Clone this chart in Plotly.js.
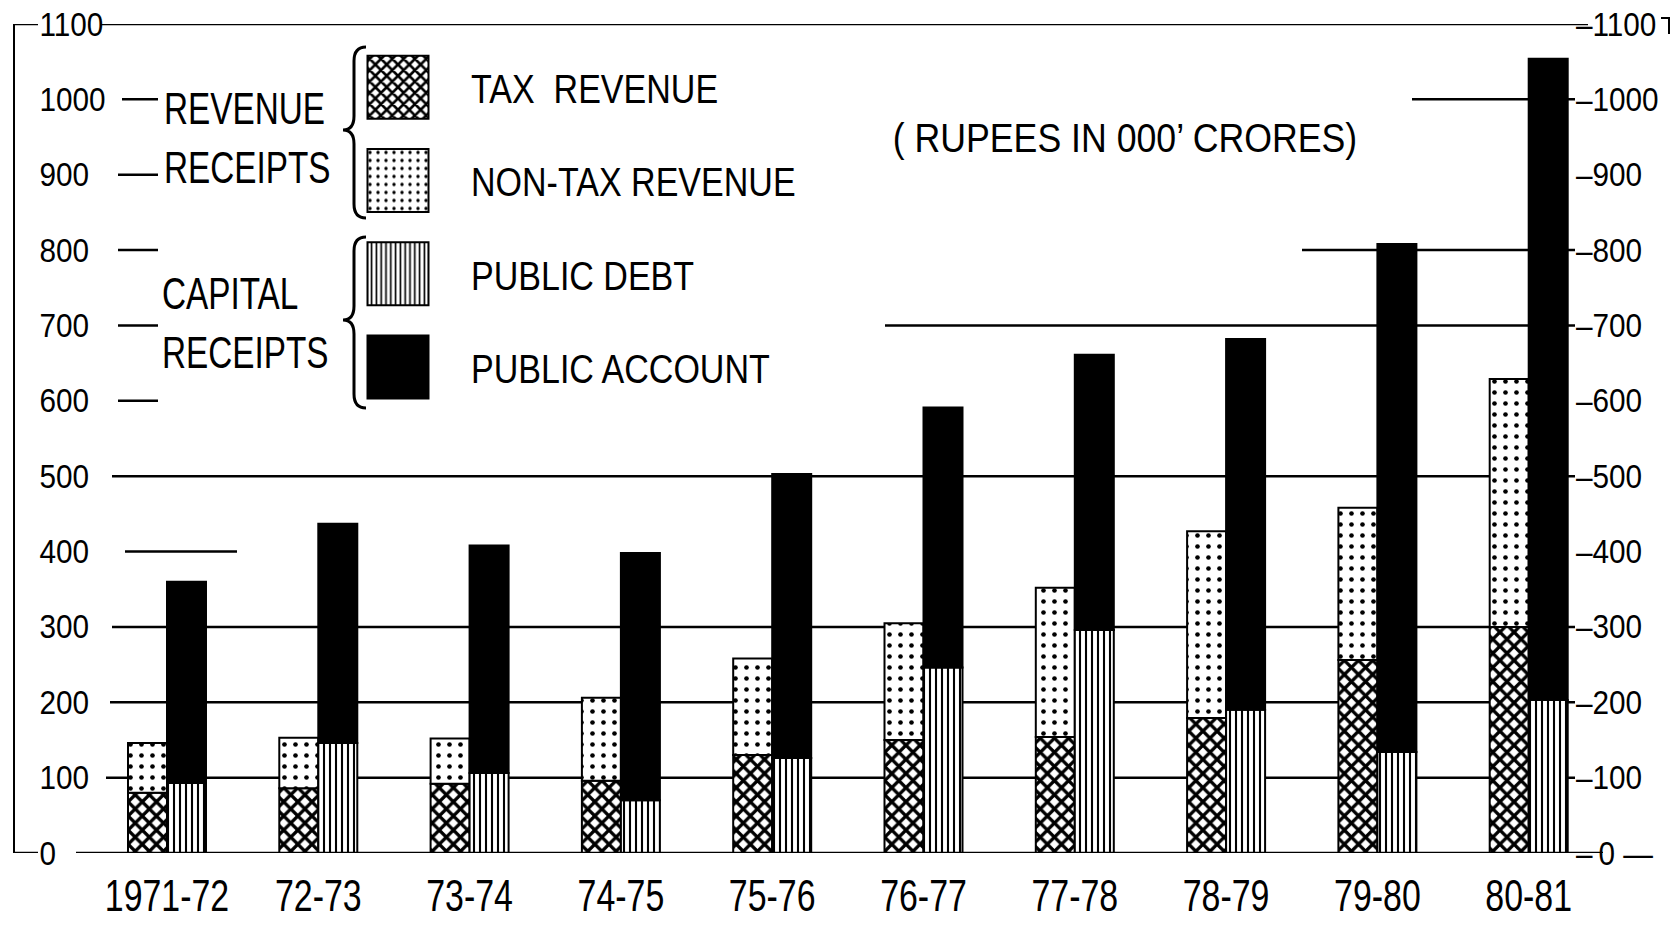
<!DOCTYPE html>
<html>
<head>
<meta charset="utf-8">
<script src="https://cdn.plot.ly/plotly-3.0.1.min.js"></script>
<style>
  html, body { margin: 0; padding: 0; background: #fff; }
  #chart { width: 1671px; height: 925px; }
</style>
</head>
<body>
<div id="chart"></div>
<script>
// ---------------- data ----------------
const categories = ['1971-72', '72-73', '73-74', '74-75', '75-76', '76-77', '77-78', '78-79', '79-80', '80-81'];
const taxRevenue    = [80, 86, 92, 96, 130, 150, 154, 179, 256, 300];
const nonTaxRevenue = [66, 67, 60, 110, 128, 155, 198, 248, 202, 329];
const publicDebt    = [93, 146, 106, 70, 126, 246, 296, 190, 134, 203];
const publicAccount = [267, 291, 302, 328, 377, 345, 365, 492, 674, 851];
const yTickValues = [0, 100, 200, 300, 400, 500, 600, 700, 800, 900, 1000, 1100];
const seriesNames = ['TAX  REVENUE', 'NON-TAX REVENUE', 'PUBLIC DEBT', 'PUBLIC ACCOUNT'];
const groupLabels = ['REVENUE<br>RECEIPTS', 'CAPITAL<br>RECEIPTS'];
const unitNote = '( RUPEES IN 000\u2019 CRORES)';

// ---------------- layout helpers (decoration only) ----------------
const FONT = '"Liberation Sans", Arial, sans-serif';
const W = 1671, H = 925;
const L = 15, R = 1575, T = 24, B = 853;
const px = x => (x - L) / (R - L);      // pixel x -> paper
const py = y => (B - y) / (B - T);      // pixel y -> paper

const stroke = { color: '#000', width: 2 };

const traces = [
  {
    type: 'bar', name: seriesNames[0], x: categories, y: taxRevenue,
    offsetgroup: 'revenue', legendgroup: 'a',
    marker: { color: '#fff', line: stroke,
      pattern: { shape: 'x', fgcolor: '#000', bgcolor: '#fff', size: 10, solidity: 0.55 } }
  },
  {
    type: 'bar', name: seriesNames[1], x: categories, y: nonTaxRevenue, base: taxRevenue,
    offsetgroup: 'revenue', legendgroup: 'b',
    marker: { color: '#fff', line: stroke,
      pattern: { shape: '.', fgcolor: '#000', bgcolor: '#fff', size: 11, solidity: 0.14 } }
  },
  {
    type: 'bar', name: seriesNames[2], x: categories, y: publicDebt,
    offsetgroup: 'capital', legendgroup: 'c',
    marker: { color: '#fff', line: stroke,
      pattern: { shape: '|', fgcolor: '#000', bgcolor: '#fff', size: 6, solidity: 0.35 } }
  },
  {
    type: 'bar', name: seriesNames[3], x: categories, y: publicAccount, base: publicDebt,
    offsetgroup: 'capital', legendgroup: 'd',
    marker: { color: '#000', line: stroke }
  },
  {
    // invisible helper so the right-hand axis is drawn
    type: 'scatter', x: [categories[0]], y: [0], yaxis: 'y2', mode: 'none',
    showlegend: false, hoverinfo: 'skip'
  }
];

function brace(xr, xm, xl, yTop, yBot, yTip) {
  const P = (x, y) => px(x).toFixed(5) + ',' + py(y).toFixed(5);
  return 'M' + P(xr, yTop) + ' Q' + P(xm, yTop) + ' ' + P(xm, yTop + 14) +
         ' L' + P(xm, yTip - 14) + ' Q' + P(xm, yTip) + ' ' + P(xl, yTip) +
         ' Q' + P(xm, yTip) + ' ' + P(xm, yTip + 14) +
         ' L' + P(xm, yBot - 14) + ' Q' + P(xm, yBot) + ' ' + P(xr, yBot);
}

// hand-ruled guide lines: which stretches of each level are drawn (pixel x ranges)
const guideStretches = {
  100: [[106, R]], 200: [[110, R]], 300: [[112, R]], 400: [[125, 237]], 500: [[112, R]],
  600: [[118, 158]], 700: [[118, 158], [885, R]], 800: [[118, 158], [1302, R]],
  900: [[118, 158]], 1000: [[122, 158], [1412, R]]
};
const shapes = [];
Object.keys(guideStretches).forEach(v => {
  guideStretches[v].forEach(([a, b]) => {
    shapes.push({ type: 'line', layer: 'below', xref: 'paper', yref: 'y',
      x0: px(a), x1: px(b), y0: Number(v), y1: Number(v),
      line: { color: '#000', width: 2.5 } });
  });
});
// frame: top rule and base line, broken where the end labels sit
const frameRuns = [[0, L, 38], [0, 76, 1603], [1100, L, 38], [1100, 100, 1588]];
frameRuns.forEach(([v, a, b]) => {
  shapes.push({ type: 'line', layer: 'above', xref: 'paper', yref: 'y',
    x0: px(a), x1: px(b), y0: v, y1: v, line: { color: '#000', width: 2.5 } });
});
shapes.push(
  { type: 'path', xref: 'paper', yref: 'paper',
    path: 'M' + px(1661) + ',' + py(18) + ' L' + px(1669) + ',' + py(18) + ' L' + px(1669) + ',' + py(34),
    line: { color: '#000', width: 2 } },
  { type: 'path', xref: 'paper', yref: 'paper', path: brace(366, 354, 343, 47, 218, 130),
    line: { color: '#000', width: 3 } },
  { type: 'path', xref: 'paper', yref: 'paper', path: brace(366, 354, 343, 237, 408, 320),
    line: { color: '#000', width: 3 } }
);

const annotations = [
  { xref: 'paper', yref: 'paper', x: px(162), y: py(138), xanchor: 'left', yanchor: 'middle',
    text: groupLabels[0], align: 'left', showarrow: false,
    font: { family: FONT, size: 45, color: '#000' } },
  { xref: 'paper', yref: 'paper', x: px(160), y: py(323), xanchor: 'left', yanchor: 'middle',
    text: groupLabels[1], align: 'left', showarrow: false,
    font: { family: FONT, size: 45, color: '#000' } },
  { xref: 'paper', yref: 'paper', x: px(1125), y: py(138), xanchor: 'center', yanchor: 'middle',
    text: unitNote, showarrow: false,
    font: { family: FONT, size: 41, color: '#000' } }
];

const layout = {
  width: W, height: H,
  margin: { l: L, r: W - R, t: T, b: H - B, pad: 0 },
  paper_bgcolor: '#fff', plot_bgcolor: '#fff',
  font: { family: FONT, color: '#000' },
  barmode: 'group', bargap: 0.4845, bargroupgap: 0,
  showlegend: true,
  legend: {
    x: px(325), y: py(54), xanchor: 'left', yanchor: 'top',
    bgcolor: 'rgba(0,0,0,0)', borderwidth: 0,
    itemwidth: 136, tracegroupgap: 37, traceorder: 'grouped',
    font: { family: FONT, size: 41, color: '#000' },
    itemclick: false, itemdoubleclick: false
  },
  xaxis: {
    type: 'category', range: [-1.0046, 9.306],
    showline: false, ticks: '', showgrid: false, zeroline: false,
    tickangle: 0, automargin: false,
    tickfont: { family: FONT, size: 44, color: '#000' },
    ticklabelstandoff: 13
  },
  yaxis: {
    range: [0, 1100], tickmode: 'array', tickvals: yTickValues,
    ticktext: yTickValues.map(String),
    ticklabelposition: 'inside', ticklabeloverflow: 'allow', ticklabelstandoff: 28,
    showline: true, linecolor: '#000', linewidth: 2.5,
    showgrid: false, zeroline: false, ticks: '',
    tickfont: { family: FONT, size: 33, color: '#000' }
  },
  yaxis2: {
    overlaying: 'y', side: 'right', range: [0, 1100], tickmode: 'array',
    tickvals: yTickValues,
    ticktext: yTickValues.map(v => v === 0 ? '\u2013\u20090 \u2014' : '\u2013' + v),
    showline: false, showgrid: false, zeroline: false, ticks: '',
    ticklabelstandoff: 0,
    tickfont: { family: FONT, size: 33, color: '#000' }
  },
  shapes: shapes,
  annotations: annotations
};

// squeeze text horizontally to imitate the narrow hand lettering
function condense(el, factor) {
  const lines = el.querySelectorAll('tspan.line');
  const targets = lines.length ? Array.from(lines) : [el];
  targets.forEach(t => {
    const len = t.getComputedTextLength();
    if (len > 0) {
      t.setAttribute('textLength', (len * factor).toFixed(1));
      t.setAttribute('lengthAdjust', 'spacingAndGlyphs');
    }
  });
}

Plotly.newPlot('chart', traces, layout, { staticPlot: true, displayModeBar: false }).then(gd => {
  // enlarge the legend swatches to the size used in the original key
  gd.querySelectorAll('.legend .legendpoints path').forEach(p => {
    p.setAttribute('d', 'M30.5,31.5H-30.5V-31.5H30.5Z');
  });
  gd.querySelectorAll('.xtick text').forEach(t => condense(t, 0.77));
  gd.querySelectorAll('.ytick text, .y2tick text').forEach(t => condense(t, 0.9));
  gd.querySelectorAll('.legend text.legendtext').forEach(t => condense(t, 0.83));
  const ann = gd.querySelectorAll('.annotation-text');
  ann.forEach((t, i) => condense(t, i < 2 ? 0.74 : 0.87));
});
</script>
</body>
</html>
